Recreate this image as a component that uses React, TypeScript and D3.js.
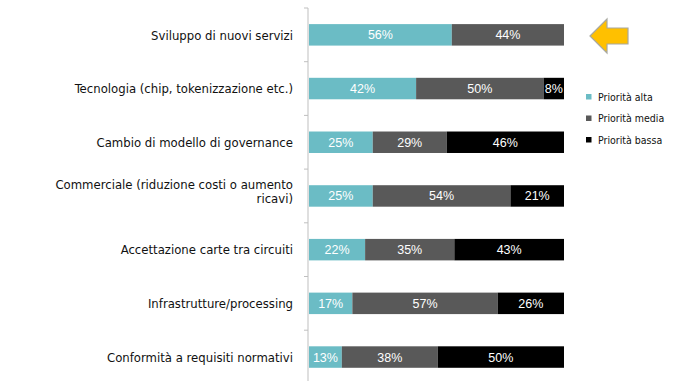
import React from "react";
import * as d3 from "d3";

const categories = [
  "Sviluppo di nuovi servizi",
  "Tecnologia (chip, tokenizzazione etc.)",
  "Cambio di modello di governance",
  "Commerciale (riduzione costi o aumento|ricavi)",
  "Accettazione carte tra circuiti",
  "Infrastrutture/processing",
  "Conformità a requisiti normativi",
];
const alta = [56, 42, 25, 25, 22, 17, 13];
const media = [44, 50, 29, 54, 35, 57, 38];
const bassa = [0, 8, 46, 21, 43, 26, 50];
const seriesNames = ["Priorità alta", "Priorità media", "Priorità bassa"];
const seriesColors = ["#6BBCC5", "#595959", "#000000"];

const W = 678;
const H = 381;
const LABEL_FONT = "'DejaVu Sans Condensed', 'DejaVu Sans', sans-serif";
const VALUE_FONT = "'Liberation Sans', Arial, sans-serif";

export default function App() {
  const rows = categories.map((c, i) => ({ cat: c, alta: alta[i], media: media[i], bassa: bassa[i] }));
  const keys = ["alta", "media", "bassa"];
  const stacked = d3.stack<any>().keys(keys).offset(d3.stackOffsetExpand)(rows);

  const y = d3
    .scaleBand<string>()
    .domain(categories)
    .range([8, 8 + 7 * 53.7])
    .paddingInner(0.6)
    .paddingOuter(0.3);
  const x = d3.scaleLinear().domain([0, 1]).range([309, 564]);
  const step = y.step();
  const bw = y.bandwidth();
  const tickYs = categories.map((c) => (y(c) as number) - step * 0.3);

  return (
    <svg
      width={W}
      height={H}
      style={{ position: "absolute", left: 0, top: 0, background: "#fff" }}
    >
      {/* axis */}
      <line x1={308} x2={308} y1={8} y2={H} stroke="#BFBFBF" strokeWidth={1} />
      {tickYs.map((t, i) => (
        <line key={i} x1={304} x2={308} y1={t} y2={t} stroke="#BFBFBF" strokeWidth={1} />
      ))}

      {/* bars */}
      {stacked.map((s, si) =>
        s.map((d, i) => {
          const x0 = x(d[0]);
          const x1 = x(d[1]);
          const w = x1 - x0;
          if (w <= 0) return null;
          const val = (rows[i] as any)[keys[si]];
          const yy = y(categories[i]) as number;
          return (
            <g key={`${si}-${i}`}>
              <rect x={x0} y={yy} width={w} height={bw} fill={seriesColors[si]} />
              <text
                x={(x0 + x1) / 2}
                y={yy + bw / 2}
                dy="0.36em"
                textAnchor="middle"
                fill="#fff"
                fontFamily={VALUE_FONT}
                fontSize={12.5}
              >
                {val}%
              </text>
            </g>
          );
        })
      )}

      {/* category labels */}
      {categories.map((c, i) => {
        const lines = c.split("|");
        const cy = (y(c) as number) + bw / 2;
        const start = lines.length === 1 ? 0 : -12;
        return (
          <text
            key={c}
            x={293}
            y={cy + start}
            dy="0.36em"
            textAnchor="end"
            fill="#111"
            fontFamily={LABEL_FONT}
            fontStretch="condensed"
            fontSize={13}
          >
            {lines.map((l, li) => (
              <tspan key={li} x={293} dy={li === 0 ? "0.36em" : "14"}>
                {l}
              </tspan>
            ))}
          </text>
        );
      })}

      {/* legend */}
      {seriesNames.map((n, i) => (
        <g key={n} transform={`translate(586, ${97 + i * 21.5})`}>
          <rect x={0} y={-3} width={5.5} height={5.5} fill={seriesColors[i]} />
          <text
            x={12}
            y={0}
            dy="0.36em"
            fill="#111"
            fontFamily={LABEL_FONT}
            fontStretch="condensed"
            fontSize={10.5}
          >
            {n}
          </text>
        </g>
      ))}

      {/* arrow */}
      <path
        d="M590,36 L607,19 L607,28 L628,28 L628,44 L607,44 L607,53 Z"
        fill="#FFC000"
        stroke="#A8A8A0"
        strokeWidth={1.2}
        strokeLinejoin="miter"
      />
    </svg>
  );
}
